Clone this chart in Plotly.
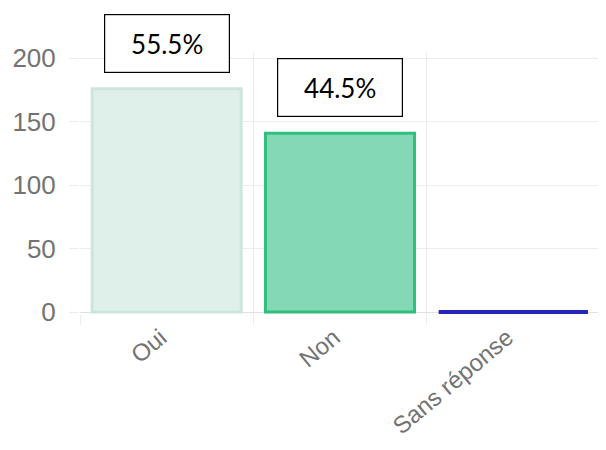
import plotly.graph_objects as go

categories = ["Oui", "Non", "Sans réponse"]
counts = [176, 141, 0]
fill_colors = ["#dfefe9", "#84d8b5", "#2f2fc0"]
line_colors = ["#cde6dc", "#2ebf7f", "#2424b8"]
percent_labels = ["55.5%", "44.5%"]
label_y = [1.032, 0.864]  # pasted boxes, paper coords

bargap = 0.14

fig = go.Figure()
fig.add_trace(go.Bar(
    x=categories, y=counts,
    marker=dict(color=fill_colors, line=dict(color=line_colors, width=3)),
    hoverinfo="x+y",
))

# zero bars aren't drawn by plotly, so draw the border line chart.js would show
for i, (v, c) in enumerate(zip(counts, line_colors)):
    if v == 0:
        half = (1 - bargap) / 2
        fig.add_shape(type="line", xref="x", yref="y",
                      x0=i - half, x1=i + half, y0=v, y1=v,
                      line=dict(color=c, width=4))

for cat, txt, y in zip(categories, percent_labels, label_y):
    fig.add_annotation(
        x=cat, y=y, xref="x", yref="paper", yanchor="middle",
        text=txt, showarrow=False,
        font=dict(family="Lato", size=26, color="black"),
        width=122, height=55, bgcolor="white",
        bordercolor="black", borderwidth=1.2,
    )

grid = "#ececec"
# page body has an 8px margin, so the figure is 8px smaller than the window
fig.update_layout(
    width=598, height=442,
    margin=dict(l=72, r=6, t=44, b=136),
    plot_bgcolor="white", paper_bgcolor="white",
    bargap=bargap, showlegend=False,
    font=dict(family="Liberation Sans", size=26, color="#737373"),
)
fig.update_xaxes(
    type="category", tickson="boundaries", tickangle=-40,
    tickfont=dict(size=24),
    showgrid=True, gridcolor=grid, gridwidth=1,
    ticks="outside", ticklen=10, tickcolor=grid,
    ticklabelstandoff=4, ticklabelshift=-6, automargin=False,
    showline=False, range=[-0.5, 2.5],
)
fig.update_yaxes(
    range=[-1.5, 205], tickvals=[0, 50, 100, 150, 200],
    showgrid=True, gridcolor=grid, gridwidth=1,
    zeroline=True, zerolinecolor="#e0e0e0", zerolinewidth=1,
    ticks="outside", ticklen=10, tickcolor=grid,
    ticklabelstandoff=8, automargin=False, showline=False,
)

fig.write_html("out.html")
